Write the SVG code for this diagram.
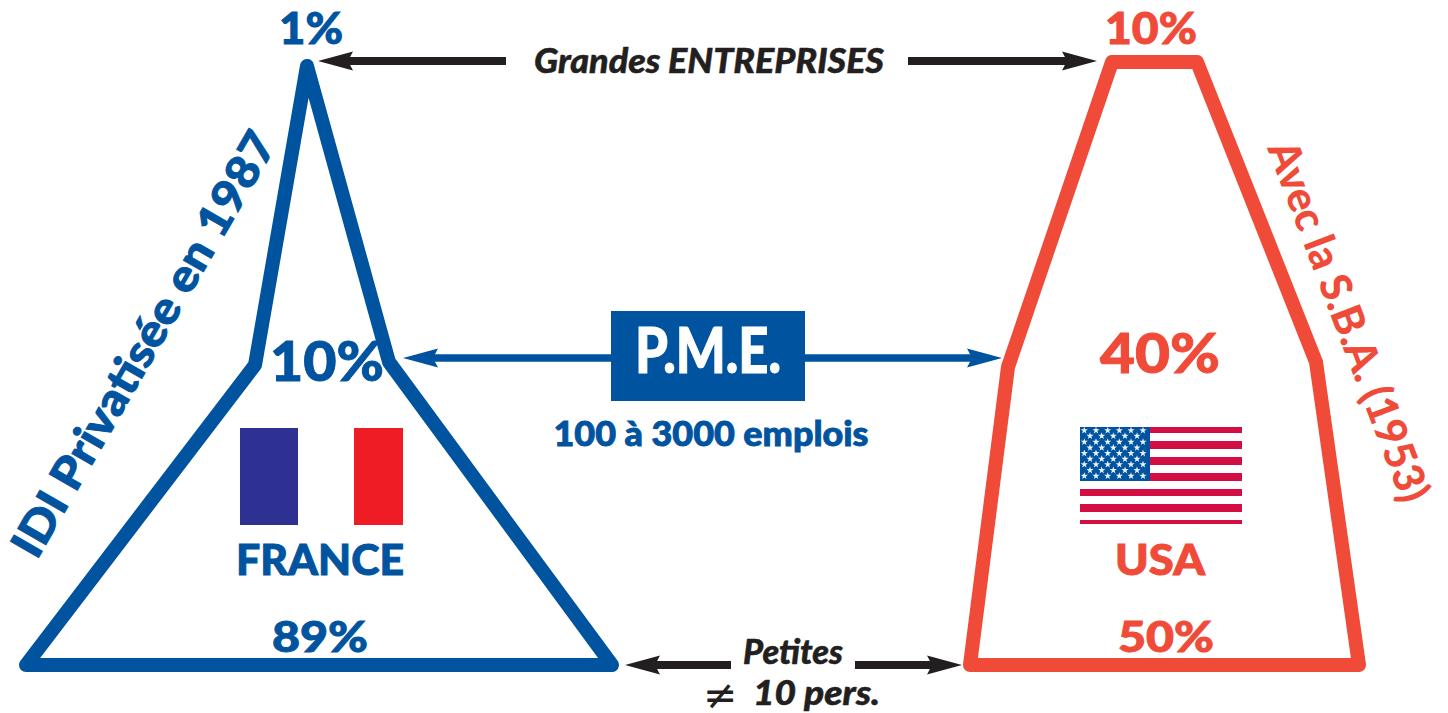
<svg xmlns="http://www.w3.org/2000/svg" width="1448" height="713" viewBox="0 0 1448 713">
<style>
text{font-family:"Lato","Liberation Sans",sans-serif;font-weight:900}
.b{fill:#00539f;stroke:#00539f;stroke-width:.9}.r{fill:#f04a38;stroke:#f04a38;stroke-width:.9}.k{fill:#231f20;font-style:italic;stroke:#231f20;stroke-width:.5}
.thin{stroke-width:0}
.ne{font-family:"DejaVu Sans",sans-serif;font-weight:400;font-style:normal;stroke-width:0}
.tri{fill:none;stroke-width:14;stroke-linejoin:round}
.ak{stroke:#231f20;stroke-width:8;fill:none;marker-end:url(#hk)}
.ab{stroke:#00539f;stroke-width:7.500;fill:none;marker-end:url(#hb)}
</style>
<defs>
<marker id="hk" markerUnits="userSpaceOnUse" markerWidth="40" markerHeight="24" refX="5" refY="12" orient="auto"><path d="M0 2.500L35 12L0 21.500L5 12Z" fill="#231f20"/></marker>
<marker id="hb" markerUnits="userSpaceOnUse" markerWidth="40" markerHeight="24" refX="5" refY="12" orient="auto"><path d="M0 2.500L35 12L0 21.500L5 12Z" fill="#00539f"/></marker>
<path id="s" d="M0-3.800L.9-1.200L3.600-1.200L1.400.5L2.200 3.100L0 1.500L-2.200 3.100L-1.400.5L-3.600-1.200L-.9-1.200Z" fill="#e8f0f8"/>
</defs>
<g id="connectors">
<path class="ak" d="M506 61H348"/>
<path class="ak" d="M908 61H1067"/>
<path class="ab" d="M612 358H433"/>
<path class="ab" d="M804 358H972"/>
<path class="ak" d="M731 665H655"/>
<path class="ak" d="M855 665H932"/>
</g>
<g id="france">
<path class="tri" stroke="#00539f" d="M307 66L389 362L612 665H26L255 365Z"/>
<rect x="240" y="428" width="58" height="97" fill="#2e3192"/>
<rect x="354" y="428" width="49" height="97" fill="#ef1c25"/>
<text class="b" x="311" y="44" font-size="43" text-anchor="middle" textLength="64" lengthAdjust="spacingAndGlyphs">1%</text>
<text class="b" x="327" y="381" font-size="55" text-anchor="middle" textLength="114" lengthAdjust="spacingAndGlyphs">10%</text>
<text class="b" x="320" y="575" font-size="42" text-anchor="middle" textLength="168" lengthAdjust="spacingAndGlyphs">FRANCE</text>
<text class="b" x="320" y="652" font-size="42" text-anchor="middle" textLength="96" lengthAdjust="spacingAndGlyphs">89%</text>
<text class="b" transform="translate(36.700 560.700) rotate(-60)" font-size="45" textLength="482" lengthAdjust="spacingAndGlyphs">IDI Privatisée en 1987</text>
</g>
<g id="pme">
<rect x="611" y="311" width="194" height="90" fill="#00539f"/>
<text x="708" y="373" font-size="62" fill="#fff" stroke="#fff" stroke-width="1" text-anchor="middle" textLength="146" lengthAdjust="spacingAndGlyphs">P.M.E.</text>
<text class="b" x="711" y="446" font-size="35" text-anchor="middle" textLength="315" lengthAdjust="spacingAndGlyphs">100 à 3000 emplois</text>
</g>
<g id="grandes"><text class="k" x="709" y="73" font-size="35" text-anchor="middle" textLength="350" lengthAdjust="spacingAndGlyphs">Grandes ENTREPRISES</text></g>
<g id="petites">
<text class="k" x="793" y="664" font-size="34" text-anchor="middle" textLength="100" lengthAdjust="spacingAndGlyphs">Petites</text>
<text class="k" y="705" font-size="34"><tspan class="ne" x="703" dy="4" font-size="41">≠</tspan><tspan x="753" dy="-4" textLength="127" lengthAdjust="spacingAndGlyphs">10 pers.</tspan></text>
</g>
<g id="usa">
<path class="tri" stroke="#f04a38" d="M1112 62H1197L1316 362L1359 665H970L1008 367Z"/>
<g fill="#d20e43">
<rect x="1080" y="427" width="162" height="6"/><rect x="1080" y="441" width="162" height="8"/><rect x="1080" y="457" width="162" height="8"/><rect x="1080" y="473" width="162" height="8"/><rect x="1080" y="489" width="162" height="7"/><rect x="1080" y="504" width="162" height="8"/><rect x="1080" y="520" width="162" height="4"/>
</g>
<rect x="1080" y="427" width="70" height="54" fill="#00539f"/>
<g id="stars">
<use href="#s" x="1084.300" y="430.500"/><use href="#s" x="1096" y="430.500"/><use href="#s" x="1107.700" y="430.500"/><use href="#s" x="1119.300" y="430.500"/><use href="#s" x="1131" y="430.500"/><use href="#s" x="1143" y="430.500"/>
<use href="#s" x="1090" y="436"/><use href="#s" x="1101.700" y="436"/><use href="#s" x="1113.300" y="436"/><use href="#s" x="1125" y="436"/><use href="#s" x="1137" y="436"/>
<use href="#s" x="1084.300" y="442"/><use href="#s" x="1096" y="442"/><use href="#s" x="1107.700" y="442"/><use href="#s" x="1119.300" y="442"/><use href="#s" x="1131" y="442"/><use href="#s" x="1143" y="442"/>
<use href="#s" x="1090" y="447.700"/><use href="#s" x="1101.700" y="447.700"/><use href="#s" x="1113.300" y="447.700"/><use href="#s" x="1125" y="447.700"/><use href="#s" x="1137" y="447.700"/>
<use href="#s" x="1084.300" y="453.300"/><use href="#s" x="1096" y="453.300"/><use href="#s" x="1107.700" y="453.300"/><use href="#s" x="1119.300" y="453.300"/><use href="#s" x="1131" y="453.300"/><use href="#s" x="1143" y="453.300"/>
<use href="#s" x="1090" y="459"/><use href="#s" x="1101.700" y="459"/><use href="#s" x="1113.300" y="459"/><use href="#s" x="1125" y="459"/><use href="#s" x="1137" y="459"/>
<use href="#s" x="1084.300" y="464.500"/><use href="#s" x="1096" y="464.500"/><use href="#s" x="1107.700" y="464.500"/><use href="#s" x="1119.300" y="464.500"/><use href="#s" x="1131" y="464.500"/><use href="#s" x="1143" y="464.500"/>
<use href="#s" x="1090" y="470.300"/><use href="#s" x="1101.700" y="470.300"/><use href="#s" x="1113.300" y="470.300"/><use href="#s" x="1125" y="470.300"/><use href="#s" x="1137" y="470.300"/>
<use href="#s" x="1084.300" y="476"/><use href="#s" x="1096" y="476"/><use href="#s" x="1107.700" y="476"/><use href="#s" x="1119.300" y="476"/><use href="#s" x="1131" y="476"/><use href="#s" x="1143" y="476"/>
</g>
<text class="r" x="1151" y="44" font-size="43" text-anchor="middle" textLength="92" lengthAdjust="spacingAndGlyphs">10%</text>
<text class="r" x="1160" y="373" font-size="55" text-anchor="middle" textLength="120" lengthAdjust="spacingAndGlyphs">40%</text>
<text class="r" x="1160" y="575" font-size="42" text-anchor="middle" textLength="90" lengthAdjust="spacingAndGlyphs">USA</text>
<text class="r" x="1166" y="652" font-size="42" text-anchor="middle" textLength="96" lengthAdjust="spacingAndGlyphs">50%</text>
<text class="r thin" transform="translate(1267 148) rotate(69.200)" font-size="43" textLength="382" lengthAdjust="spacingAndGlyphs">Avec la S.B.A. (1953)</text>
</g>
</svg>
